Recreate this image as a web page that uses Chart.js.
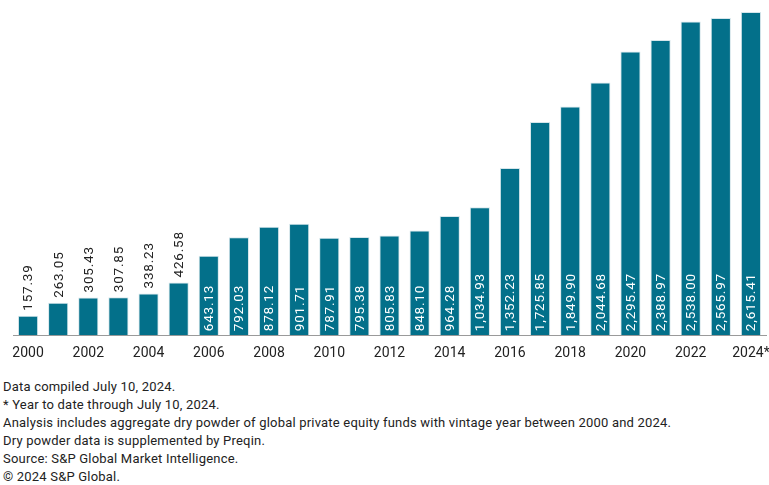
<!DOCTYPE html>
<html>
<head>
<meta charset="utf-8">
<script src="https://cdn.jsdelivr.net/npm/chart.js@4"></script>
<style>
  html, body { margin: 0; padding: 0; background: #fff; }
  #wrap { position: relative; width: 769px; height: 372px; }
  #notes { font-family: Roboto, sans-serif; font-size: 13px; letter-spacing: 0.2px; color: #222; line-height: 18px; padding: 6px 0 0 3px; }
</style>
</head>
<body>
<div id="wrap"><canvas id="chart"></canvas></div>
<div id="notes">
  <div>Data compiled July 10, 2024.</div>
  <div>* Year to date through July 10, 2024.</div>
  <div>Analysis includes aggregate dry powder of global private equity funds with vintage year between 2000 and 2024.</div>
  <div>Dry powder data is supplemented by Preqin.</div>
  <div>Source: S&amp;P Global Market Intelligence.</div>
  <div>© 2024 S&amp;P Global.</div>
</div>
<script>
var years = ['2000', '2001', '2002', '2003', '2004', '2005', '2006', '2007', '2008', '2009',
  '2010', '2011', '2012', '2013', '2014', '2015', '2016', '2017', '2018', '2019',
  '2020', '2021', '2022', '2023', '2024*'];
var dryPowder = [157.39, 263.05, 305.43, 307.85, 338.23, 426.58, 643.13, 792.03, 878.12, 901.71,
  787.91, 795.38, 805.83, 848.10, 964.28, 1034.93, 1352.23, 1725.85, 1849.90, 2044.68,
  2295.47, 2388.97, 2538.00, 2565.97, 2615.41];

var barColour = '#03708a';

function fmt(v) {
  return v.toLocaleString('en-US', { minimumFractionDigits: 2, maximumFractionDigits: 2 });
}

// value labels: rotated, inside bar when there is room, otherwise above it
var labelPlugin = {
  id: 'valueLabels',
  afterDatasetsDraw: function(chart) {
    var ctx = chart.ctx;
    var meta = chart.getDatasetMeta(0);
    ctx.save();
    ctx.font = '13.5px Roboto, sans-serif';
    ctx.letterSpacing = '0.8px';
    meta.data.forEach(function(bar, i) {
      var text = fmt(dryPowder[i]);
      var w = ctx.measureText(text).width;
      var h = bar.base - bar.y;
      ctx.save();
      ctx.translate(bar.x, bar.base);
      ctx.rotate(-Math.PI / 2);
      ctx.textBaseline = 'middle';
      ctx.textAlign = 'left';
      if (h > w + 12) {
        ctx.fillStyle = '#ffffff';
        ctx.fillText(text, 4, 1);
      } else {
        ctx.fillStyle = '#222222';
        ctx.fillText(text, h + 5, 1);
      }
      ctx.restore();
    });
    ctx.restore();
  }
};

new Chart(document.getElementById('chart'), {
  type: 'bar',
  data: {
    labels: years,
    datasets: [{
      data: dryPowder,
      backgroundColor: barColour,
      borderColor: '#d6e6eb',
      borderWidth: 1,
      categoryPercentage: 1,
      barPercentage: 0.67
    }]
  },
  options: {
    responsive: true,
    maintainAspectRatio: false,
    animation: false,
    layout: { padding: { left: 13, right: 3, top: 12, bottom: 0 } },
    plugins: { legend: { display: false }, tooltip: { enabled: false } },
    scales: {
      x: {
        grid: { display: false, drawTicks: false },
        border: { color: '#9a9a9a', width: 1 },
        afterFit: function(scale) { scale.paddingLeft = 0; scale.paddingRight = 0; },
        ticks: {
          color: '#222',
          font: { family: 'Roboto', size: 14 },
          padding: 10,
          autoSkip: false,
          maxRotation: 0,
          callback: function(v, i) { return i % 2 === 0 ? years[i] : ''; }
        }
      },
      y: { display: false, min: 0, max: 2615.41 }
    }
  },
  plugins: [labelPlugin]
});
</script>
</body>
</html>
